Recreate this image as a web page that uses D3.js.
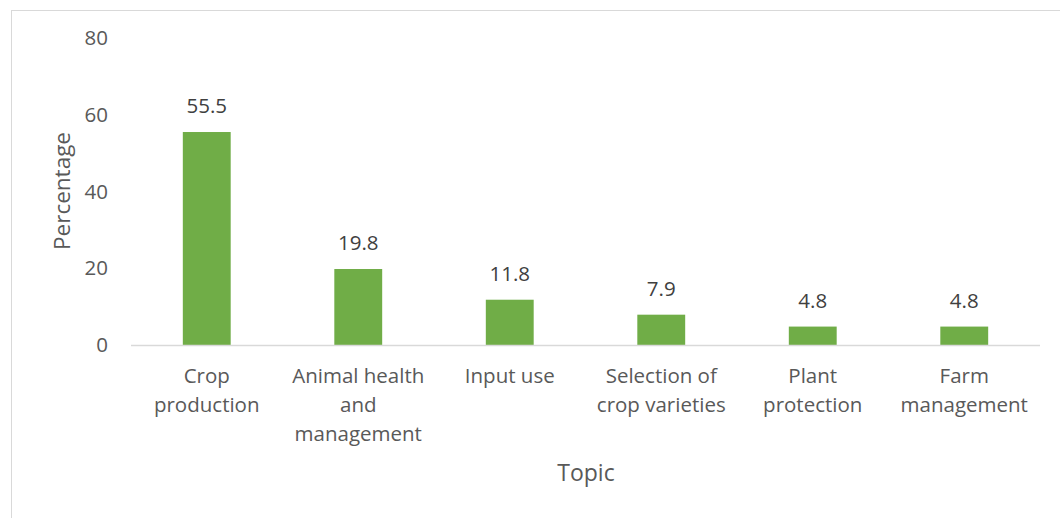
<!DOCTYPE html>
<html><head><meta charset="utf-8">
<script src="https://cdn.jsdelivr.net/npm/d3@7"></script>
<style>body{margin:0;background:#fff}svg{display:block}text{font-family:"Open Sans","Noto Sans",sans-serif;fill:#595959}</style>
</head><body><svg id="c" width="1060" height="518"></svg>
<script>
const categories = ["Crop production","Animal health and management","Input use","Selection of crop varieties","Plant protection","Farm management"];
const categoryLines = [["Crop","production"],["Animal health","and","management"],["Input use"],["Selection of","crop varieties"],["Plant","protection"],["Farm","management"]];
const values = [55.5,19.8,11.8,7.9,4.8,4.8];
const yTicks = [0,20,40,60,80];

const svg = d3.select("#c");
svg.append("rect").attr("x",11.5).attr("y",10.5).attr("width",1070).attr("height",520)
  .attr("fill","none").attr("stroke","#d9d9d9").attr("stroke-width",1);

const x = d3.scaleBand().domain(categories).range([131,1040]).paddingInner(0.684).paddingOuter(0.342);
const y = d3.scaleLinear().domain([0,80]).range([345,38]);

svg.selectAll(".bar").data(values).join("rect")
  .attr("x",(d,i)=>x(categories[i])).attr("width",x.bandwidth())
  .attr("y",d=>y(d)).attr("height",d=>y(0)-y(d)).attr("fill","#70AD47");

svg.append("line").attr("x1",131).attr("x2",1040).attr("y1",y(0)+0.5).attr("y2",y(0)+0.5)
  .attr("stroke","#d9d9d9").attr("stroke-width",1.5);

svg.selectAll(".yt").data(yTicks).join("text")
  .attr("x",108).attr("y",d=>y(d)).attr("dy","0.35em").attr("text-anchor","end")
  .attr("font-size",20.5).text(d=>d);

svg.selectAll(".vl").data(values).join("text")
  .attr("x",(d,i)=>x(categories[i])+x.bandwidth()/2).attr("y",d=>y(d)-26).attr("dy","0.35em")
  .attr("text-anchor","middle").attr("font-size",20.5).style("fill","#404040").text(d=>d.toFixed(1));

categories.forEach((c,i)=>{
  const t = svg.append("text").attr("text-anchor","middle").attr("font-size",20.5);
  categoryLines[i].forEach((ln,j)=>{
    t.append("tspan").attr("x",x(c)+x.bandwidth()/2).attr("y",376+j*29).attr("dy","0.35em").text(ln);
  });
});

svg.append("text").attr("transform","translate(62,191) rotate(-90)").attr("text-anchor","middle")
  .attr("dy","0.35em").attr("font-size",22.5).text("Percentage");
svg.append("text").attr("x",586).attr("y",473).attr("dy","0.35em").attr("text-anchor","middle")
  .attr("font-size",23).text("Topic");
</script></body></html>
